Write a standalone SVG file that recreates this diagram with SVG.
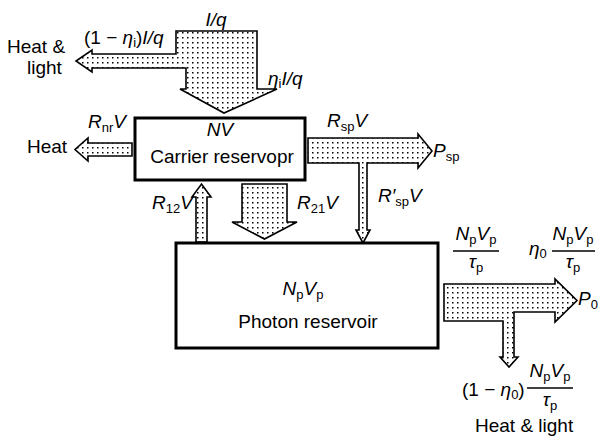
<svg xmlns="http://www.w3.org/2000/svg" width="598" height="441" viewBox="0 0 598 441">
<defs>
<pattern id="dots" width="5" height="5" patternUnits="userSpaceOnUse"><rect width="5" height="5" fill="#fff"/><rect x="2" y="2" width="1.5" height="1.5" fill="#000"/></pattern>
<style>
.box{fill:#fff;stroke:#000;stroke-width:3}
.arr{fill:url(#dots);stroke:#000;stroke-width:1.6;stroke-linejoin:miter}
text{font-family:"Liberation Sans",Arial,sans-serif;font-size:19px;fill:#000}
.i{font-style:italic}
.s{font-size:13px;font-style:normal}
.fl{stroke:#000;stroke-width:1.3}
</style>
</defs>
<rect width="598" height="441" fill="#fff"/>
<g id="connectors">
<polygon id="arrow-input" class="arr" points="176,31 257,31 257,89 277,89 224,113 180,89 186,89 186,68 92,68 92,72 76,61 92,50 92,54 176,54"/>
<polygon id="arrow-rnr" class="arr" points="132,143 88,143 88,138 75,149.5 88,161 88,156 132,156"/>
<polygon id="arrow-r12" class="arr" points="196,242 196,197 192,197 201.5,184 211,197 207,197 207,242"/>
<polygon id="arrow-r21" class="arr" points="242,184 287,184 287,222 297,222 264.5,239 232,222 242,222"/>
<polygon id="arrow-rsp" class="arr" points="308,138 418,138 418,134 432,151 418,168 418,163 367,163 367,230 370,230 363,243 356,230 359,230 359,163 308,163"/>
<polygon id="arrow-out" class="arr" points="444,284 555,284 555,279 577,300.5 555,322 555,312 514,312 514,357 518,357 509,367 500,357 503,357 503,321 444,321"/>
<text class="i" x="216" y="26" text-anchor="middle">I/q</text>
<text x="84" y="44">(1 − <tspan class="i">η</tspan><tspan class="s" dy="3">i</tspan><tspan dy="-3">)</tspan><tspan class="i">I/q</tspan></text>
<text x="7" y="53">Heat &amp;</text>
<text x="27" y="74">light</text>
<text x="268" y="85"><tspan class="i">η</tspan><tspan class="s" dy="3">i</tspan><tspan class="i" dy="-3">I/q</tspan></text>
<text x="88" y="128"><tspan class="i">R</tspan><tspan class="s" dy="4">nr</tspan><tspan class="i" dy="-4">V</tspan></text>
<text x="27" y="153">Heat</text>
<text x="152" y="209"><tspan class="i">R</tspan><tspan class="s" dy="4">12</tspan><tspan class="i" dy="-4">V</tspan></text>
<text x="297" y="209"><tspan class="i">R</tspan><tspan class="s" dy="4">21</tspan><tspan class="i" dy="-4">V</tspan></text>
<text x="327" y="127"><tspan class="i">R</tspan><tspan class="s" dy="4">sp</tspan><tspan class="i" dy="-4">V</tspan></text>
<text x="433" y="157"><tspan class="i">P</tspan><tspan class="s" dy="4">sp</tspan></text>
<text x="378" y="202"><tspan class="i">R′</tspan><tspan class="s" dy="4">sp</tspan><tspan class="i" dy="-4">V</tspan></text>
<text x="476" y="240" text-anchor="middle"><tspan class="i">N</tspan><tspan class="s" dy="4">p</tspan><tspan class="i" dy="-4">V</tspan><tspan class="s" dy="4">p</tspan></text>
<line class="fl" x1="453" y1="251" x2="499" y2="251"/>
<text x="476" y="268" text-anchor="middle"><tspan class="i">τ</tspan><tspan class="s" dy="4">p</tspan></text>
<text x="529" y="255"><tspan class="i">η</tspan><tspan class="s" dy="3">0</tspan></text>
<text x="573" y="240" text-anchor="middle"><tspan class="i">N</tspan><tspan class="s" dy="4">p</tspan><tspan class="i" dy="-4">V</tspan><tspan class="s" dy="4">p</tspan></text>
<line class="fl" x1="552" y1="251" x2="595" y2="251"/>
<text x="573" y="268" text-anchor="middle"><tspan class="i">τ</tspan><tspan class="s" dy="4">p</tspan></text>
<text x="578" y="305"><tspan class="i">P</tspan><tspan class="s" dy="4">0</tspan></text>
<text x="462" y="396">(1 − <tspan class="i">η</tspan><tspan class="s" dy="3">0</tspan><tspan dy="-3">)</tspan></text>
<text x="550" y="377" text-anchor="middle"><tspan class="i">N</tspan><tspan class="s" dy="4">p</tspan><tspan class="i" dy="-4">V</tspan><tspan class="s" dy="4">p</tspan></text>
<line class="fl" x1="527" y1="388" x2="573" y2="388"/>
<text x="550" y="406" text-anchor="middle"><tspan class="i">τ</tspan><tspan class="s" dy="4">p</tspan></text>
<text x="475" y="432">Heat &amp; light</text>
</g>
<g id="carrier-reservoir">
<rect class="box" x="135" y="118" width="170" height="62"/>
<text class="i" x="220" y="136" text-anchor="middle">NV</text>
<text x="222" y="163" text-anchor="middle">Carrier reservopr</text>
</g>
<g id="photon-reservoir">
<rect class="box" x="176" y="243" width="262" height="105"/>
<text x="303" y="295" text-anchor="middle"><tspan class="i">N</tspan><tspan class="s" dy="4">p</tspan><tspan class="i" dy="-4">V</tspan><tspan class="s" dy="4">p</tspan></text>
<text x="308" y="328" text-anchor="middle">Photon reservoir</text>
</g>
</svg>
